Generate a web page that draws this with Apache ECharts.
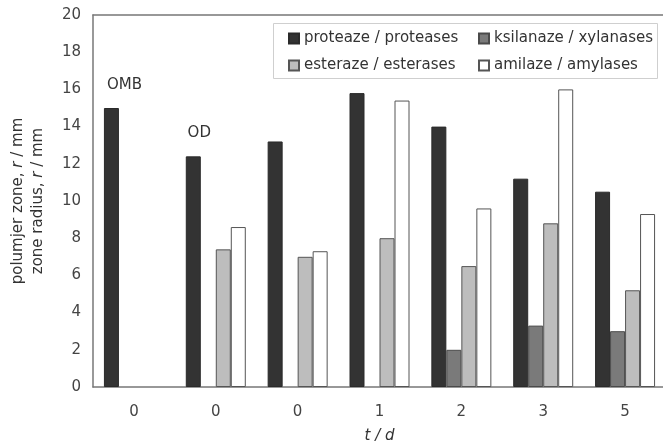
<!DOCTYPE html>
<html>
<head>
<meta charset="utf-8">
<script src="https://cdn.jsdelivr.net/npm/echarts@6/dist/echarts.min.js"></script>
<style>html,body{margin:0;padding:0;background:#fff}#c{width:663px;height:443px}</style>
</head>
<body>
<div id="c"></div>
<script>
const categories = ['0', '0', '0', '1', '2', '3', '5'];
const seriesNames = ['proteaze / proteases', 'ksilanaze / xylanases', 'esteraze / esterases', 'amilaze / amylases'];
const proteases = [15.0, 12.4, 13.2, 15.8, 14.0, 11.2, 10.5];
const xylanases = [null, null, null, null, 2.0, 3.3, 3.0];
const esterases = [null, 7.4, 7.0, 8.0, 6.5, 8.8, 5.2];
const amylases = [null, 8.6, 7.3, 15.4, 9.6, 16.0, 9.3];
const annotations = ['OMB', 'OD', null, null, null, null, null];
const yTicks = [0, 2, 4, 6, 8, 10, 12, 14, 16, 18, 20];

const fills = ['#333333', '#7a7a7a', '#bdbdbd', '#ffffff'];
const borders = ['#2a2a2a', '#4a4a4a', '#555555', '#555555'];
const font = 'DejaVu Sans, Verdana, sans-serif';

const proteaseData = proteases.map((v, i) => annotations[i] ? {
  value: v,
  label: { show: true, formatter: annotations[i], position: 'top', distance: 12,
    offset: i === 0 ? [13, -3] : [6, -4], color: '#333', fontSize: 15, fontFamily: font }
} : v);

const allData = [proteaseData, xylanases, esterases, amylases];

const legendText = { fontSize: 15, color: '#333', fontFamily: font };

const chart = echarts.init(document.getElementById('c'), null, { renderer: 'canvas' });
chart.setOption({
  animation: false,
  backgroundColor: '#fff',
  textStyle: { fontFamily: font },
  grid: { left: 93, top: 15, width: 573, bottom: 56, show: false, outerBoundsMode: 'none', containLabel: false },
  graphic: [{
    type: 'rect', left: 273, top: 23, z: 0,
    shape: { width: 384, height: 55 },
    style: { fill: '#fff', stroke: '#cfcfcf', lineWidth: 1 }
  }],
  legend: [{
    data: [seriesNames[0], seriesNames[2]],
    orient: 'vertical', left: 283, top: 26, itemWidth: 10, itemHeight: 10, itemGap: 12,
    icon: 'rect', textStyle: legendText, z: 5
  }, {
    data: [seriesNames[1], seriesNames[3]],
    orient: 'vertical', left: 473, top: 26, itemWidth: 10, itemHeight: 10, itemGap: 12,
    icon: 'rect', textStyle: legendText, z: 5
  }],
  xAxis: [{
    type: 'category',
    data: categories,
    name: 't / d',
    nameLocation: 'middle',
    nameGap: 42,
    nameTextStyle: { fontSize: 15, color: '#333', fontStyle: 'italic' },
    axisLine: { show: true, lineStyle: { color: '#777', width: 1.5 } },
    axisTick: { show: false },
    axisLabel: { fontSize: 15, color: '#444', margin: 18 }
  }, {
    type: 'category',
    data: categories,
    position: 'top',
    axisLine: { show: true, lineStyle: { color: '#777', width: 1.5 } },
    axisTick: { show: false },
    axisLabel: { show: false }
  }],
  yAxis: {
    type: 'value',
    min: yTicks[0],
    max: yTicks[yTicks.length - 1],
    interval: 2,
    name: 'polumjer zone, {i|r} / mm\nzone radius, {i|r} / mm',
    nameLocation: 'middle',
    nameGap: 45,
    nameRotate: 90,
    nameTextStyle: { fontSize: 15, color: '#333', lineHeight: 20,
      rich: { i: { fontStyle: 'italic', fontSize: 15, color: '#333' } } },
    axisLine: { show: true, lineStyle: { color: '#777', width: 1.5 } },
    axisTick: { show: false },
    splitLine: { show: false },
    axisLabel: { fontSize: 15, color: '#444', margin: 12 }
  },
  series: seriesNames.map((name, k) => ({
    name,
    type: 'bar',
    data: allData[k],
    barWidth: 15,
    barGap: '0%',
    itemStyle: { color: fills[k], borderColor: borders[k], borderWidth: 1 }
  }))
});
</script>
</body>
</html>
